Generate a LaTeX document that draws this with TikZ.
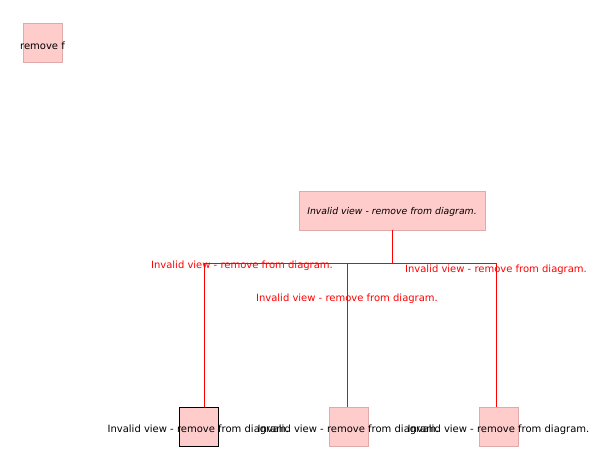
\documentclass[tikz,border=0pt]{standalone}
\usepackage{fontspec}
\setmainfont{DejaVu Sans}
\usetikzlibrary{positioning}
\definecolor{viewfill}{HTML}{FFCCCC}
\definecolor{viewline}{HTML}{E0AAAA}
\tikzset{
  view/.style={draw=viewline, fill=viewfill, minimum width=39pt, minimum height=39pt, inner sep=0pt},
  wideview/.style={view, minimum width=186pt},
  viewtext/.style={inner sep=0pt, font=\fontsize{10}{12}\selectfont},
  link/.style={draw=red, line width=0.8pt},
  linklabel/.style={text=red, inner sep=0pt, font=\fontsize{10}{12}\selectfont}
}
\begin{document}
\begin{tikzpicture}[x=1pt, y=-1pt]
  \useasboundingbox (0, 0) rectangle (610, 457);
  \node[view] (lone) at (42.5, 42.5) {};
  \node[viewtext] at ([yshift=-3pt]lone.center) {remove f};
  \node[wideview] (root) at (392, 210.5) {};
  \node[viewtext, font=\fontsize{9.3}{11}\selectfont\itshape] at ([yshift=-1pt]root.center) {Invalid view - remove from diagram.};
  \node[view, draw=black] (leafa) at (198.5, 426.5) {};
  \node[view] (leafb) at (348.5, 426.5) {};
  \node[view] (leafc) at (498.5, 426.5) {};
  \foreach \leaf in {leafa, leafb, leafc}
    \node[viewtext] at ([yshift=-3pt]\leaf.center) {Invalid view - remove from diagram.};
  % bus between root and leaves
  \coordinate (bus) at (392, 263);
  \coordinate (drop a) at (204, 407);
  \coordinate (drop b) at (347, 407);
  \coordinate (drop c) at (496, 407);
  \draw[link] (root.south) -- (bus);
  \draw[link] (bus) -| (drop a);
  \draw[link] (bus) -| (drop b);
  \draw[link] (bus) -| (drop c);
  \node[linklabel] (labela) at (242, 265.5) {Invalid view - remove from diagram.};
  \node[linklabel] (labelb) at (347, 298.5) {Invalid view - remove from diagram.};
  \node[linklabel] (labelc) at (496, 269.5) {Invalid view - remove from diagram.};
\end{tikzpicture}
\end{document}
